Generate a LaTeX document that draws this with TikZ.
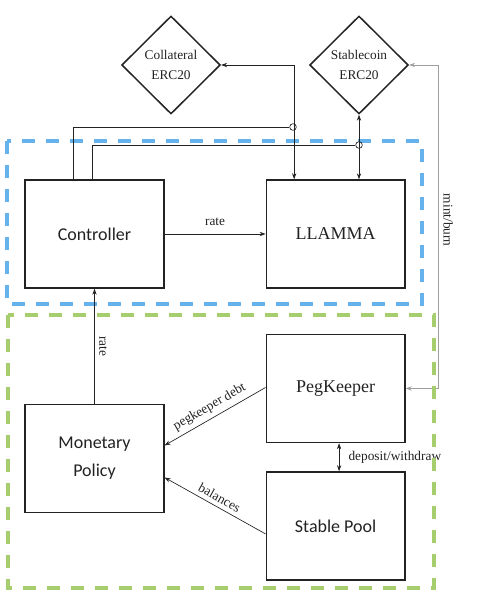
\documentclass[tikz,border=0pt]{standalone}
\usepackage{fontspec}
\setmainfont{Liberation Serif}
\newfontfamily\boxsans{Carlito}
\usetikzlibrary{shapes.geometric, arrows.meta, positioning}
\definecolor{corAzul}{RGB}{102, 178, 236}
\definecolor{corVerde}{RGB}{166, 206, 110}
\definecolor{corTraco}{RGB}{34, 34, 34}

\begin{document}
\begin{tikzpicture}[
    x=0.75pt, y=-0.75pt,
    mod/.style={draw=corTraco, line width=1.1pt, minimum width=104pt, minimum height=81pt,
                align=center, text=corTraco},
    sansmod/.style={mod, font=\boxsans\fontsize{13.5}{21}\selectfont},
    serifmod/.style={mod, font=\fontsize{13.5}{21}\selectfont},
    token/.style={diamond, draw=corTraco, line width=1.1pt, minimum width=74pt, minimum height=73.5pt,
                  inner sep=0pt, align=center, text=corTraco, font=\fontsize{10}{15.5}\selectfont},
    lnk/.style={draw=corTraco, line width=0.5pt},
    lbl/.style={font=\fontsize{10}{12}\selectfont, text=corTraco},
    hop/.style={circle, draw=corTraco, line width=0.5pt, fill=white, inner sep=0pt, minimum size=5pt},
    zona/.style={line width=2.5pt, dash pattern=on 9.5pt off 8.5pt},
    >={Stealth[length=4.5pt, width=3.2pt]}
]
\useasboundingbox (0,0) rectangle (481,607);

% zonas
\draw[zona, corAzul] (7,141) rectangle (422,304);

% modulos
\node[sansmod] (ctrl) at (94.5,234) {Controller};
\node[serifmod, right=75.75pt of ctrl] (llamma) {LLAMMA};
\node[serifmod, below=33.75pt of llamma] (peg) {PegKeeper};
\node[sansmod, below=21pt of peg] (pool) {Stable Pool};
\node[sansmod, below=86.25pt of ctrl] (mp) {Monetary\\Policy};
\node[token] (coll) at (171,65) {Collateral\\ERC20};
\node[token] (stab) at (359,65) {Stablecoin\\ERC20};
\node[hop] (hopc) at (293,127) {};
\node[hop] (hops) at (359,145) {};

% ligacoes
\draw[lnk] ([xshift=-16.1pt]ctrl.north) |- (hopc);
\draw[lnk] ([xshift=-1.9pt]ctrl.north) |- (hops);
\draw[lnk, <->] (coll.east) -| ([xshift=-31.1pt]llamma.north);
\draw[lnk, <->] (stab.south) -- (stab.south |- llamma.north);
\draw[lnk, ->] (ctrl) -- node[lbl, above=3pt] {rate} (llamma);
\draw[lnk, <-] (ctrl.south) -- node[lbl, rotate=-90, anchor=south] {rate} (mp.north);
\draw[lnk, <-] ([yshift=9.75pt]mp.east) -- node[lbl, above, sloped] {pegkeeper debt} ([yshift=0.75pt]peg.west);
\draw[lnk, <-] ([yshift=-14.25pt]mp.east) -- node[lbl, above, sloped] {balances} ([yshift=-6pt]pool.west);
\draw[lnk, <->] ([xshift=2.6pt]peg.south) -- node[lbl, right=3.5pt] {deposit/withdraw} ([xshift=2.6pt]pool.north);
\draw[lnk, <->, draw=gray!75] (stab.east) -| node[lbl, pos=0.74, rotate=-90, anchor=south] {mint/burn}
    ([xshift=24.75pt]peg.east) -- (peg.east);

\draw[zona, corVerde] (8,315) rectangle (434,588);
\end{tikzpicture}
\end{document}
